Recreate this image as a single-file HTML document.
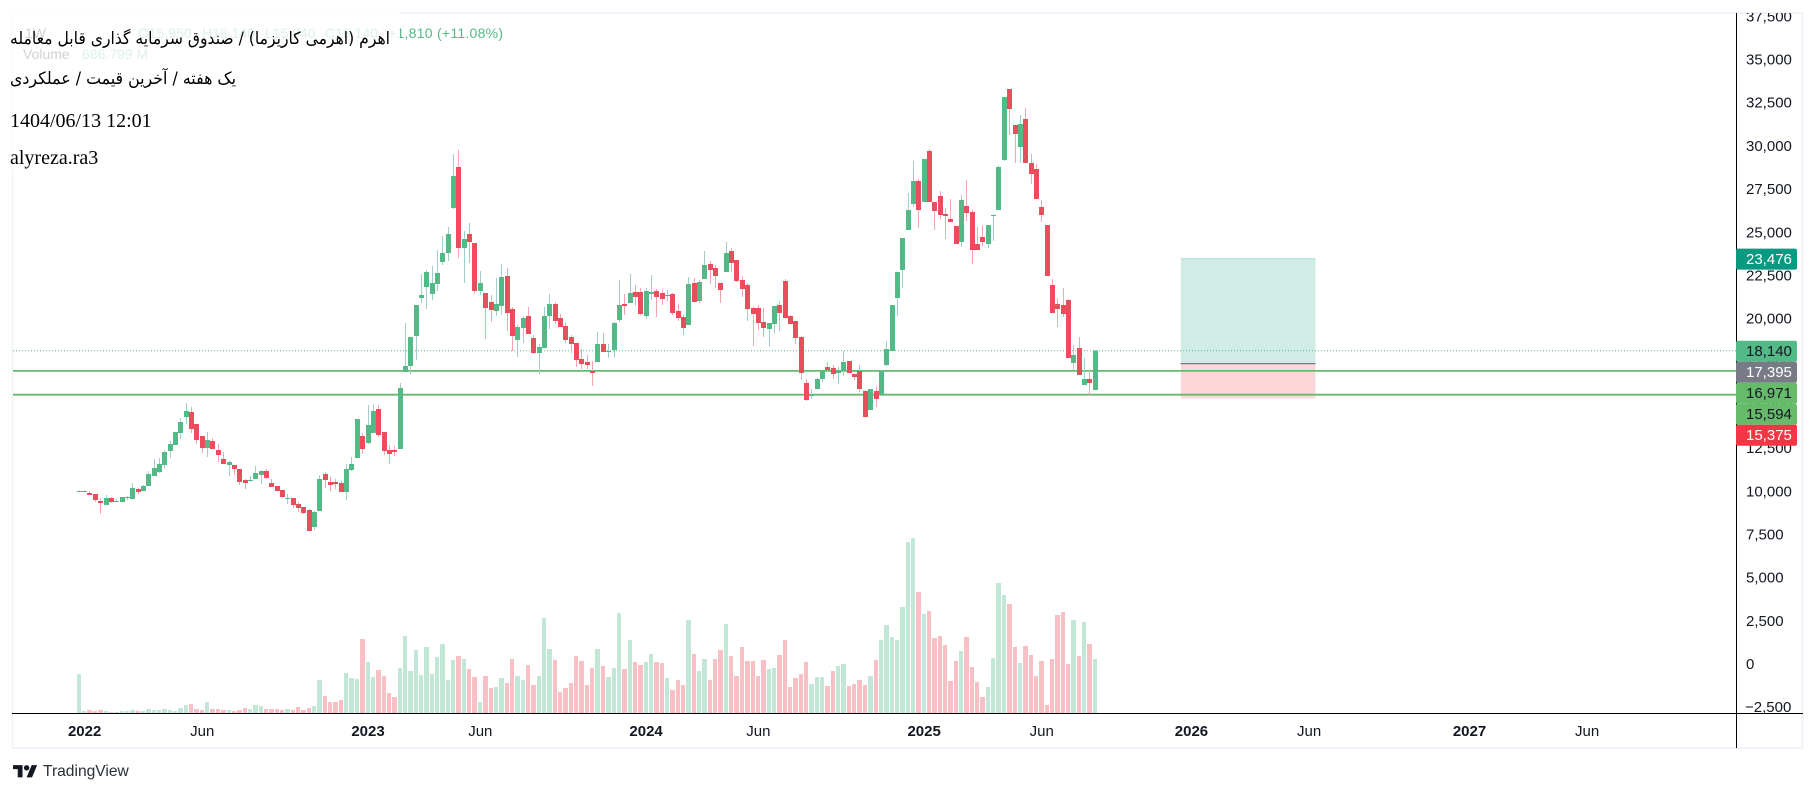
<!DOCTYPE html>
<html lang="en">
<head>
<meta charset="utf-8">
<title>Weekly candlestick chart</title>
<style>
html,body{margin:0;padding:0;background:#fff;width:1816px;height:792px;overflow:hidden}
svg{display:block;font-family:"Liberation Sans",sans-serif}
.title-fa{font-family:"DejaVu Sans",sans-serif;font-size:17px;fill:#000}
.title-serif{font-family:"Liberation Serif",serif;font-size:20px;fill:#000}
</style>
</head>
<body>
<svg id="chart" xmlns="http://www.w3.org/2000/svg" width="1816" height="792" viewBox="0 0 1816 792">
  <defs>
    <clipPath id="plot-clip"><rect x="12" y="13" width="1790" height="735"></rect></clipPath>
  </defs>
  <g id="frame">
    <line x1="12" y1="13" x2="1803" y2="13" stroke="#f0f3fa" stroke-width="2"/>
    <line x1="12.5" y1="13" x2="12.5" y2="748" stroke="#f0f3fa" stroke-width="1.5"/>
    <line x1="1802.5" y1="13" x2="1802.5" y2="748" stroke="#f0f3fa" stroke-width="2"/>
    <line x1="12" y1="748" x2="1803" y2="748" stroke="#f0f3fa" stroke-width="2"/>
  </g>
  <g id="position-layer"></g>
  <g id="lines-layer"></g>
  <g id="volume-layer"></g>
  <g id="candle-layer"></g>
  <g id="axis-layer" clip-path="url(#plot-clip)"></g>
  <g id="axis-lines">
    <line x1="12" y1="713.5" x2="1803" y2="713.5" stroke="#000000" stroke-width="1"/>
    <line x1="1736.5" y1="13" x2="1736.5" y2="748" stroke="#000000" stroke-width="1"/>
  </g>
  <g id="label-layer"></g>

  <g font-size="14">
    <text x="25" y="38" fill="#131722">1W</text>
    <text x="138" y="38" fill="#53b987">O15,950</text>
    <text x="202" y="38" fill="#53b987">H18,140</text>
    <text x="265" y="38" fill="#53b987">L15,840</text>
    <text x="325" y="38" fill="#53b987">C18,140</text>
    <text x="388" y="38" fill="#53b987" textLength="115">+1,810 (+11.08%)</text>
    <text x="23" y="59" fill="#131722">Volume</text>
    <text x="82" y="59" fill="#53b987">686.799 M</text>
  </g>
  <rect x="0" y="0" width="400" height="170" fill="#ffffff" fill-opacity="0.8"/>
  <g>
    <text class="title-fa" x="390" y="44" text-anchor="start" direction="rtl" textLength="380" lengthAdjust="spacingAndGlyphs">اهرم (اهرمی کاریزما) / صندوق سرمایه گذاری قابل معامله</text>
    <text class="title-fa" x="236" y="84" text-anchor="start" direction="rtl" textLength="226" lengthAdjust="spacingAndGlyphs">یک هفته / آخرین قیمت / عملکردی</text>
    <text class="title-serif" x="10" y="127">1404/06/13 12:01</text>
    <text class="title-serif" x="10" y="164">alyreza.ra3</text>
  </g>

  <g transform="translate(13,761) scale(0.68)" fill="#131722">
    <path d="M14 6H0v6h7v12h7V6zM28 24h-8l7.5-18h8L28 24z"/>
    <circle cx="20" cy="10" r="4"/>
  </g>
  <text x="43" y="776" font-size="15.6" fill="#2a2e39">TradingView</text>
</svg>

<script>
var opens = [
9960,9960,9900,9840,9440,9210,9610,9380,9380,9610,
9555,10130,10020,10310,10890,11120,11520,12330,12680,13380,
14300,14590,13900,13200,12510,12910,12390,11870,11520,11520,
11290,10655,10600,10710,10945,11180,10480,10310,10075,9555,
9610,9265,9090,8920,7930,8860,11000,10540,10540,10480,
9960,11230,11930,13200,12800,13380,14770,13430,12390,12390,
12450,16910,17260,18990,21190,21830,21425,22000,23280,23800,
26400,28780,24090,24900,24380,21600,21480,20960,20440,20730,
22470,20560,18760,19460,20150,18880,18010,18300,20150,20850,
20040,19570,18940,18590,17660,17490,16970,17490,18530,18070,
18180,19920,20850,20900,21540,21540,20150,21425,21600,21480,
21310,21425,20440,20090,19630,22060,21020,22290,23160,22930,
22060,22700,23915,23390,22240,21950,20615,20615,19800,19400,
19690,20790,22180,20150,19860,18935,16270,15520,15920,16500,
17200,17140,16850,16970,17545,16790,16970,15810,14710,15810,
15580,17315,18125,21190,22815,25130,26640,27970,26750,29705,
26750,27100,26060,25770,25360,24440,26520,26170,24320,24730,
24320,25940,26290,29180,33295,31210,29940,31560,29010,28660,
26460,25420,21950,20850,20790,21080,17430,18300,16160,16500,
15870];
var highs = [
10060,10075,10020,9840,9610,9790,9670,9555,9670,9730,
10480,10190,10365,11180,11870,11930,12390,12910,13430,14240,
15110,14880,13900,13200,13430,13090,12740,12280,11755,11520,
11290,10710,10890,11470,11235,11290,10710,10310,10075,9840,
9610,9380,9090,8980,8860,10945,11120,10830,10710,10600,
11580,11990,14190,13380,15000,15055,15000,13430,12680,12620,
16270,19750,18940,20790,22580,22815,23050,23970,24780,25305,
29530,29760,25070,25540,24380,22760,21480,21370,22350,23160,
22930,20670,19630,20150,20670,19050,18530,20670,21425,20960,
20270,19750,19050,18590,18240,17890,17550,19225,19170,18530,
19800,22240,21425,22580,21950,21770,21770,22525,21715,21660,
21660,21480,20850,20210,22410,22350,22240,23915,23340,23100,
22060,24440,24090,23390,22470,22060,20670,20790,20615,19750,
20730,21020,22290,20210,19860,18990,16500,15920,16560,16970,
17490,17315,17200,18125,17545,16790,17315,15870,15920,16100,
17020,18700,20790,22700,24670,27270,29130,28080,29240,29820,
26750,27390,26405,26930,25360,27160,28030,26290,25305,25420,
25420,26060,28895,32830,33295,31210,31790,32195,29530,28950,
26870,25420,22290,21190,21770,21140,18470,18940,17720,17025,
18140];
var lows = [
9960,9940,9790,9380,8690,9210,9320,9380,9380,9500,
9555,9840,10020,10310,10890,11060,11290,11930,12680,13030,
13900,13380,12740,12220,11990,12450,11700,11580,10890,10945,
10365,10130,10540,10710,10420,10710,10250,10020,9610,9265,
9030,8800,8690,7700,7760,8860,10190,10020,10130,9960,
9500,11180,11930,12160,12740,13380,13145,12100,11580,12045,
12450,16910,16790,17600,20900,20560,21080,21600,23100,23340,
26350,23510,22060,23220,21425,21370,18820,19800,20150,20210,
19280,18125,17780,18590,19110,17950,16790,18300,19400,19690,
19515,18590,18010,17200,17080,17080,16100,17490,18070,17720,
17780,19800,20210,20900,20730,20210,19980,21080,20090,20790,
21020,20210,19860,19050,19630,20960,20900,22290,22000,21770,
20900,22700,22700,22120,21250,19860,18415,19340,18940,18360,
19170,19280,19980,19690,18530,16445,15230,15345,15920,16330,
16970,16500,16210,16680,16850,16445,15750,14300,14710,14880,
15580,17260,18125,20150,21770,25130,26460,25250,26750,26750,
25130,25770,24610,25590,24320,24150,25650,23160,23970,24205,
24090,24490,26290,29130,30630,29010,29010,29010,27790,26930,
25590,22470,20325,19515,20090,17720,17025,16735,16160,15580,
15840];
var closes = [
10020,10020,9790,9500,9320,9610,9380,9440,9670,9670,
10190,9960,10310,11000,11350,11580,12280,12740,13430,14010,
14650,13610,12970,12510,12970,12450,12100,11580,11700,11290,
10540,10480,10655,11060,11180,10770,10250,10020,9670,9610,
9210,9030,8740,7700,8800,10710,10655,10365,10420,9960,
11290,11580,14190,12450,13840,14650,13260,12330,12160,12280,
15980,17260,18940,20790,21370,22700,22060,22640,23800,24900,
28260,24090,24610,24440,21600,22060,20615,20500,20850,22410,
20325,18990,19515,20040,19110,18010,18360,20150,20850,19860,
19515,18760,18530,17600,17370,17315,16850,18530,18070,18125,
19750,20790,20730,21480,21250,20270,21600,21540,21250,21140,
21370,20325,20040,19460,22000,20960,22120,23100,22815,22470,
21660,23800,23220,22180,21715,20560,20270,19750,19460,19750,
20730,20325,20035,19690,18880,16850,15290,15580,16500,16970,
17020,16790,17020,17490,16850,16620,15920,14300,15920,15345,
16970,18240,20790,22700,24670,26290,27970,26290,29240,26750,
26230,26000,25940,25590,24320,26870,26115,23970,23970,24440,
25420,26000,28780,32830,32140,30690,31270,29010,28370,26930,
26000,22470,20325,20560,20270,17720,17890,16735,16500,16270,
18140];
var volumes = [
496,25,38,25,38,25,13,13,25,25,
38,25,25,51,38,38,51,38,25,64,
102,114,51,38,140,51,51,38,38,25,
38,64,51,102,89,51,51,51,38,51,
38,76,38,64,89,420,216,140,140,165,
509,445,432,941,649,458,547,471,254,204,
572,979,534,801,483,840,496,712,878,420,
674,725,687,560,458,140,471,318,331,445,
382,687,471,420,611,356,471,1208,814,674,
267,318,382,725,661,356,572,814,598,458,
572,1272,560,929,649,611,649,750,649,636,
445,293,420,356,1183,750,534,687,420,687,
801,1132,725,471,840,661,661,471,674,560,
572,738,929,331,445,496,649,369,458,458,
343,534,598,623,343,369,420,356,471,674,
929,1119,967,929,1348,2175,2226,1539,1259,1297,
954,979,865,407,661,789,967,585,394,204,
331,700,1654,1501,1386,840,636,852,738,471,
661,102,687,1247,1285,623,1183,725,1158,878,
687];
var priceTicks = [37500,35000,32500,30000,27500,25000,22500,20000,17500,15000,12500,10000,7500,5000,2500,0,-2500];
var timeTickBars = [1,23,54,75,106,127,158,180,208,230,260,282];
var timeTickLabels = ["2022","Jun","2023","Jun","2024","Jun","2025","Jun","2026","Jun","2027","Jun"];
var timeTickMajor = [true,false,true,false,true,false,true,false,true,false,true,false];
var levelLines = [16971,15594];
var lastPrice = 18140;
var positionTarget = 23476;
var positionEntry = 17395;
var positionStop = 15375;
var positionStartBar = 206;
var positionEndBar = 231.2;
var tagValues = [23476,18140,17395,16971,15594,15375];
var tagFills = ["#089981","#53b987","#787b86","#66bb6a","#66bb6a","#f23645"];
var tagInks = ["#ffffff","#131722","#ffffff","#131722","#131722","#ffffff"];

var SVGNS = "http://www.w3.org/2000/svg";
function xScale(bar){ return 79.3 + 5.347 * bar; }
function yScale(price){ return 664 - 0.01727 * price; }
function volumeY(m){ return 713 - m / 12.72; }
function fmt(v){
  var s = Math.abs(v).toString().replace(/\B(?=(\d{3})+(?!\d))/g, ",");
  return (v < 0 ? "\u2212" : "") + s;
}
function make(tag, attrs, parent){
  var el = document.createElementNS(SVGNS, tag);
  for (var k in attrs) el.setAttribute(k, attrs[k]);
  parent.appendChild(el);
  return el;
}

var positionLayer = document.getElementById("position-layer");
var linesLayer = document.getElementById("lines-layer");
var volumeLayer = document.getElementById("volume-layer");
var candleLayer = document.getElementById("candle-layer");
var axisLayer = document.getElementById("axis-layer");
var labelLayer = document.getElementById("label-layer");

/* position tool */
(function(){
  var x0 = xScale(positionStartBar), x1 = xScale(positionEndBar);
  var yT = yScale(positionTarget), yE = yScale(positionEntry), yS = yScale(positionStop);
  var el = make("rect", {x:x0, y:yT, width:x1-x0, height:yE-yT, fill:"#089981", "fill-opacity":0.19}, positionLayer);
  
  
  el = make("rect", {x:x0, y:yE, width:x1-x0, height:yS-yE, fill:"#f23645", "fill-opacity":0.2}, positionLayer);
  
  
  el = make("line", {x1:x0, y1:yT, x2:x1, y2:yT, stroke:"#089981", "stroke-opacity":0.25, "stroke-width":1}, positionLayer);
  
  
  el = make("line", {x1:x0, y1:yE, x2:x1, y2:yE, stroke:"#787b86", "stroke-width":1.2}, positionLayer);
  
  
})();

/* level lines */
(function(){
  var el = make("line", {x1:13, y1:yScale(lastPrice), x2:1736, y2:yScale(lastPrice), stroke:"#53b987", "stroke-width":1, "stroke-dasharray":"1 2"}, linesLayer);
  
  
  levelLines.forEach(function(v){
    var line = make("line", {x1:13, y1:yScale(v), x2:1736, y2:yScale(v), stroke:"#66bb6a", "stroke-width":1.8}, linesLayer);
    
    
  });
})();

/* volume bars */
volumes.forEach(function(v, i){
  var left = Math.round(xScale(i) - 2.5);
  var next = Math.round(xScale(i + 1) - 2.5);
  var top = volumeY(v);
  var up = closes[i] >= opens[i];
  var bar = make("rect", {x:left, y:top, width:next-left-1, height:713-top, fill:up ? "#c3e7d6" : "#f8bfc5", "shape-rendering":"crispEdges"}, volumeLayer);
  
  
});

/* candles */
opens.forEach(function(o, i){
  var c = closes[i], up = c >= o;
  var left = Math.round(xScale(i) - 2.5);
  var wick = make("rect", {x:left+2, y:yScale(highs[i]), width:1, height:Math.max(1, yScale(lows[i])-yScale(highs[i])), fill:up ? "#a5cccc" : "#f7a3b0", "shape-rendering":"crispEdges"}, candleLayer);
  
  
  var yTop = yScale(Math.max(o, c)), yBot = yScale(Math.min(o, c));
  var body = make("rect", {x:left, y:yTop, width:5, height:Math.max(1, yBot-yTop), fill:up ? "#53b987" : "#eb4d5c", "shape-rendering":"crispEdges"}, candleLayer);
  
  
});

/* axis ticks */
priceTicks.forEach(function(v){
  var t = make("text", {x:v < 0 ? 1745 : 1746, y:yScale(v)+5, "font-size":15, fill:"#131722"}, axisLayer);
  
  
  t.textContent = fmt(v);
});
timeTickBars.forEach(function(b, i){
  var t = make("text", {x:xScale(b), y:736, "font-size":15, "text-anchor":"middle", "font-weight":timeTickMajor[i] ? "bold" : "normal", fill:"#131722"}, axisLayer);
  
  
  t.textContent = timeTickLabels[i];
});

/* stacked price tags */
(function(){
  var prevBottom = -Infinity;
  tagValues.forEach(function(v, i){
    var h = 21;
    var top = Math.max(yScale(v) - 10, prevBottom);
    prevBottom = top + h;
    var r = make("rect", {x:1736, y:top, width:61, height:h, rx:2, fill:tagFills[i]}, labelLayer);
    
    
    var t = make("text", {x:1746, y:top+15.5, "font-size":15, fill:tagInks[i]}, labelLayer);
    
    
    t.textContent = fmt(v);
  });
})();
</script>
</body>
</html>
